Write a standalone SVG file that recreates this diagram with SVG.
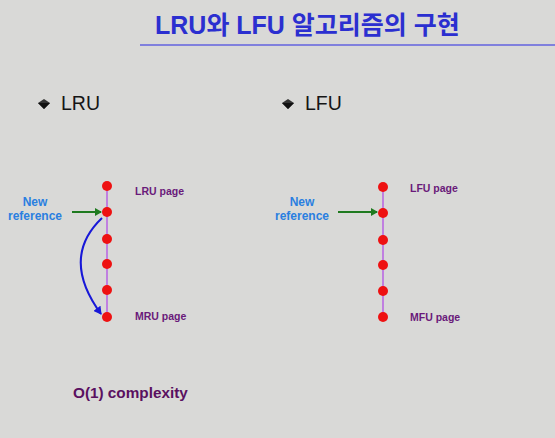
<svg xmlns="http://www.w3.org/2000/svg" width="555" height="438" viewBox="0 0 555 438">
<style>
.title{font-family:"Liberation Sans","Noto Sans CJK KR",sans-serif;font-weight:bold;font-size:25px;fill:#2b2fd0}
.head{font-family:"Liberation Sans",sans-serif;font-size:19.5px;fill:#151515}
.lbl{font-family:"Liberation Sans",sans-serif;font-weight:bold;font-size:10.5px;fill:#6a1a7a}
.ref{font-family:"Liberation Sans",sans-serif;font-weight:bold;font-size:12px;fill:#2a7fe0;text-anchor:middle}
.cx{font-family:"Liberation Sans",sans-serif;font-weight:bold;font-size:15.3px;fill:#5a1060}
.dot{fill:#ee1111}
.rail{stroke:#c080e0;stroke-width:2}
.green{stroke:#1f7a1f;stroke-width:2;fill:none}
.blue{stroke:#1818d8;stroke-width:2;fill:none}
</style>
<defs>
<marker id="ag" markerWidth="8" markerHeight="8" refX="6" refY="4" orient="auto" markerUnits="userSpaceOnUse"><path d="M0,0 L7,4 L0,8 z" fill="#1f7a1f"/></marker>
<marker id="ab" markerWidth="9" markerHeight="9" refX="7" refY="4.5" orient="auto" markerUnits="userSpaceOnUse"><path d="M0,0 L8,4.5 L0,9 z" fill="#1818d8"/></marker>
</defs>
<rect width="555" height="438" fill="#d9d9d7"/>
<g id="title">
<text class="title" x="155" y="34">LRU와 LFU 알고리즘의 구현</text>
<line x1="140" y1="45" x2="555" y2="45" stroke="#8080dd" stroke-width="2"/>
</g>
<g id="headings">
<polygon points="38,103 44,99 50,103 44,109" fill="#333"/>
<polygon points="38,103 50,103 44,109" fill="#111"/>
<text class="head" x="61" y="110">LRU</text>
<polygon points="282,103 288,99 294,103 288,109" fill="#333"/>
<polygon points="282,103 294,103 288,109" fill="#111"/>
<text class="head" x="305" y="110">LFU</text>
</g>
<g id="lru-list">
<line class="rail" x1="107" y1="186" x2="107" y2="317"/>
<circle class="dot" cx="107" cy="186" r="5"/>
<circle class="dot" cx="107" cy="212" r="5"/>
<circle class="dot" cx="107" cy="239" r="5"/>
<circle class="dot" cx="107" cy="264" r="5"/>
<circle class="dot" cx="107" cy="290" r="5"/>
<circle class="dot" cx="107" cy="317" r="5"/>
<text class="lbl" x="135" y="195">LRU page</text>
<text class="lbl" x="135" y="320">MRU page</text>
<text class="ref" x="35" y="206">New</text>
<text class="ref" x="35" y="220">reference</text>
</g>
<g id="lfu-list">
<line class="rail" x1="383" y1="187" x2="383" y2="317"/>
<circle class="dot" cx="383" cy="187" r="5"/>
<circle class="dot" cx="383" cy="213" r="5"/>
<circle class="dot" cx="383" cy="240" r="5"/>
<circle class="dot" cx="383" cy="265" r="5"/>
<circle class="dot" cx="383" cy="291" r="5"/>
<circle class="dot" cx="383" cy="317" r="5"/>
<text class="lbl" x="410" y="192">LFU page</text>
<text class="lbl" x="410" y="321">MFU page</text>
<text class="ref" x="302" y="206">New</text>
<text class="ref" x="302" y="220">reference</text>
</g>
<g id="connectors">
<line class="green" x1="72" y1="212" x2="101" y2="212" marker-end="url(#ag)"/>
<line class="green" x1="338" y1="212" x2="377" y2="212" marker-end="url(#ag)"/>
<path class="blue" d="M102,218 Q60,258 101,314" marker-end="url(#ab)"/>
</g>
<g id="complexity">
<text class="cx" x="73" y="398">O(1) complexity</text>
</g>
</svg>
